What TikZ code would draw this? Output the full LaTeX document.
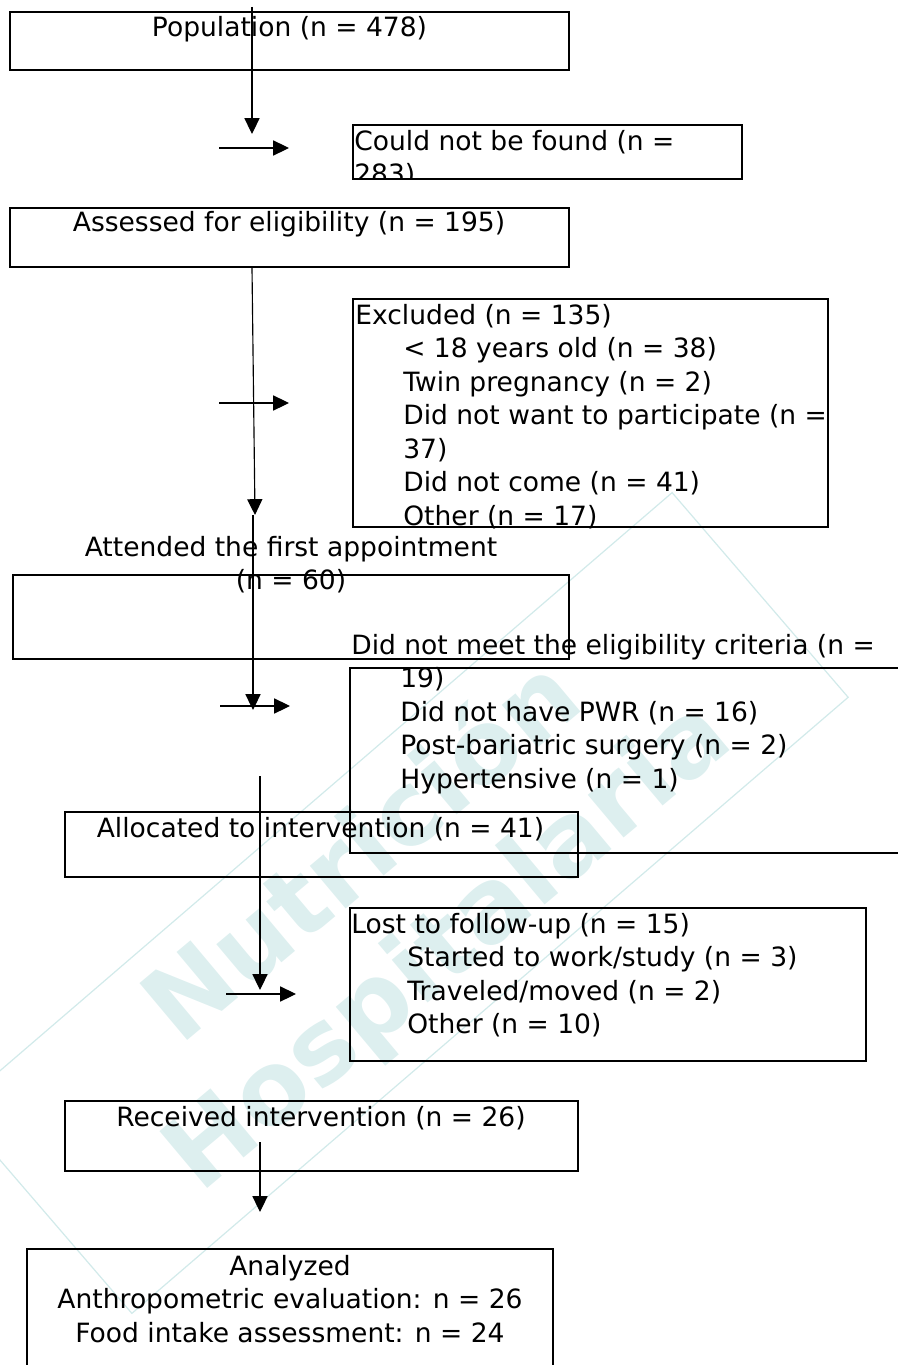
\documentclass[tikz,border=0pt]{standalone}
\usepackage{fontspec}
\setmainfont{DejaVu Sans}
\usetikzlibrary{arrows.meta,fit}
\definecolor{wm_fill}{RGB}{221,239,239}
\definecolor{wm_line}{RGB}{210,234,234}
\newcommand\bodyfont{\fontsize{15.1pt}{19.06pt}\selectfont}
\newcommand\wmfont{\fontsize{58pt}{58pt}\selectfont\bfseries}

\begin{document}
\begin{tikzpicture}[x=0.02cm,y=-0.02cm,>={Triangle[length=9pt,width=8.6pt]}]
    \tikzstyle{flowbox}=[draw, line width=1.1pt, inner sep=0pt, outer sep=0pt]
    \tikzstyle{ctext}=[font=\bodyfont, inner sep=0pt, anchor=base, align=center]
    \tikzstyle{ltext}=[font=\bodyfont, inner sep=0pt, anchor=base west, align=left]
    \tikzstyle{wmtext}=[font=\wmfont, text=wm_fill, inner sep=0pt, rotate=40]
    \tikzstyle{flow}=[->, line width=0.65pt]

    \useasboundingbox (0,0) rectangle (897,1365);

    % watermark
    \node[draw=wm_line, line width=0.7pt, rotate=40.7,
          minimum width=18.9cm, minimum height=5.4cm] (wmframe) at (402,903) {};
    \node[wmtext] (wmtop) at (358,846) {Nutrición};
    \node[wmtext] (wmbot) at (450,948) {Hospitalaria};

    % boxes
    \node[flowbox, fit={(10,12) (569,70)}]      (pop)   {};
    \node[flowbox, fit={(353,125) (742,179)}]   (found) {};
    \node[flowbox, fit={(10,208) (569,267)}]    (elig)  {};
    \node[flowbox, fit={(353,299) (828,527)}]   (excl)  {};
    \node[flowbox, fit={(13,575) (569,659)}]    (attn)  {};
    \node[flowbox, fit={(350,668) (910,853)}]   (crit)  {};
    \node[flowbox, fit={(65,812) (578,877)}]    (alloc) {};
    \node[flowbox, fit={(350,908) (866,1061)}]  (lost)  {};
    \node[flowbox, fit={(65,1101) (578,1171)}]  (recv)  {};
    \node[flowbox, fit={(27,1249) (553,1400)}]  (anal)  {};

    % texts (multi-line texts sit on their last baseline)
    \node[ctext] (popT)   at (289.5,37) {Population (n = 478)};
    \begin{scope}
      \clip (found.north west) rectangle (found.south east);
      \node[ltext] (foundT) at (354,183.5) {Could not be found (n =\\283)};
    \end{scope}
    \node[ctext] (eligT)  at (289,232)  {Assessed for eligibility (n = 195)};
    \node[ltext] (exclT)  at (355,324)  {Excluded (n = 135)};
    \node[ltext] (exclL)  at (403,525)  {< 18 years old (n = 38)\\Twin pregnancy (n = 2)\\Did not want to participate (n =\\37)\\Did not come (n = 41)\\Other (n = 17)};
    \node[ctext] (attnT)  at (291,589.5) {Attended the first appointment\\(n = 60)};
    \node[ltext] (critT)  at (351,654)  {Did not meet the eligibility criteria (n =};
    \node[ltext] (critL)  at (400,788)  {19)\\Did not have PWR (n = 16)\\Post-bariatric surgery (n = 2)\\Hypertensive (n = 1)};
    \node[ctext] (allocT) at (320.5,837) {Allocated to intervention (n = 41)};
    \node[ltext] (lostT)  at (351,933)  {Lost to follow-up (n = 15)};
    \node[ltext] (lostL)  at (407,1033.5) {Started to work/study (n = 3)\\Traveled/moved (n = 2)\\Other (n = 10)};
    \node[ctext] (recvT)  at (321,1126) {Received intervention (n = 26)};
    \node[ctext] (analT)  at (290,1342) {Analyzed\\Anthropometric evaluation: n = 26\\Food intake assessment: n = 24};

    % arrow ends
    \coordinate (v1a) at (252,7);    \coordinate (v1b) at (252,134);
    \coordinate (v2a) at (252,268);  \coordinate (v2b) at (255,515);
    \coordinate (v3a) at (253,515);  \coordinate (v3b) at (253,710);
    \coordinate (v4a) at (260,776);  \coordinate (v4b) at (260,990);
    \coordinate (v5a) at (260,1142); \coordinate (v5b) at (260,1212);
    \coordinate (h1a) at (219,148);  \coordinate (h1b) at (289,148);
    \coordinate (h2a) at (219,403);  \coordinate (h2b) at (289,403);
    \coordinate (h3a) at (220,706);  \coordinate (h3b) at (290,706);
    \coordinate (h4a) at (226,994);  \coordinate (h4b) at (296,994);

    \path[flow]
     (v1a) edge (v1b)
     (h1a) edge (h1b)
     (v2a) edge (v2b)
     (h2a) edge (h2b)
     (v3a) edge (v3b)
     (h3a) edge (h3b)
     (v4a) edge (v4b)
     (h4a) edge (h4b)
     (v5a) edge (v5b);
\end{tikzpicture}
\end{document}
